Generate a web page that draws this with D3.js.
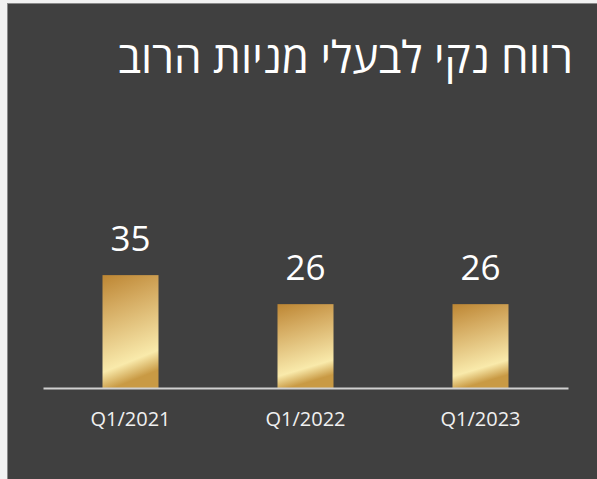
<!DOCTYPE html>
<meta charset="utf-8">
<head>
	<title>Net profit</title>
</head>

<style>
	body { margin: 0; background: #f2f2f2; }
	svg { display: block; }
</style>

<body>
	<svg width="597" height="479"></svg>

	<script src="https://d3js.org/d3.v7.min.js"></script>
	<script>
var title = "רווח נקי לבעלי מניות הרוב";
var quarters = ["Q1/2021", "Q1/2022", "Q1/2023"];
var profit = [35, 26, 26];

var width = 597, height = 479;
var left = 43, right = 568, baseline = 388;

var svg = d3.select('svg');

// dark panel
svg.append('rect')
	.attr('x', 7.5).attr('y', 3.5)
	.attr('width', width).attr('height', height)
	.attr('fill', '#404040')
	.attr('stroke', '#8a8a8a')
	.attr('stroke-width', 1);

// gold gradient
var grad = svg.append('defs').append('linearGradient')
	.attr('id', 'gold')
	.attr('x1', 0).attr('y1', 0)
	.attr('x2', 0.2).attr('y2', 1);
grad.append('stop').attr('offset', '0').attr('stop-color', '#bd8633');
grad.append('stop').attr('offset', '0.3').attr('stop-color', '#d4aa60');
grad.append('stop').attr('offset', '0.62').attr('stop-color', '#ead08e');
grad.append('stop').attr('offset', '0.83').attr('stop-color', '#f9eaab');
grad.append('stop').attr('offset', '1').attr('stop-color', '#c99a44');

var x = d3.scaleBand()
	.domain(quarters)
	.range([left, right])
	.paddingInner(0.68)
	.paddingOuter(0.34);

var y = d3.scaleLinear()
	.domain([0, 40])
	.range([baseline, baseline - 129]);

svg.append('text')
	.attr('x', 573)
	.attr('y', 73)
	.attr('text-anchor', 'start')
	.attr('direction', 'rtl')
	.style('font-family', '"Open Sans", "DejaVu Sans", sans-serif')
	.style('font-size', '44px')
	.attr('fill', '#ffffff')
	.text(title);

svg.selectAll('rect.bar')
	.data(profit)
	.enter()
	.append('rect')
	.attr('class', 'bar')
	.attr('x', function(d, i) {return x(quarters[i]);})
	.attr('y', function(d) {return y(d);})
	.attr('width', x.bandwidth())
	.attr('height', function(d) {return baseline - y(d);})
	.attr('fill', 'url(#gold)');

svg.selectAll('text.val')
	.data(profit)
	.enter()
	.append('text')
	.attr('class', 'val')
	.attr('x', function(d, i) {return x(quarters[i]) + x.bandwidth() / 2;})
	.attr('y', function(d) {return y(d) - 24;})
	.attr('text-anchor', 'middle')
	.style('font-family', '"Open Sans", sans-serif')
	.style('font-size', '35px')
	.attr('fill', '#ffffff')
	.text(function(d) {return d;});

// axis
var axis = svg.append('g')
	.attr('transform', 'translate(0,' + baseline + ')')
	.call(d3.axisBottom(x).tickSize(0).tickPadding(24));
axis.select('.domain')
	.attr('stroke', '#d0d0d0')
	.attr('stroke-width', 2);
axis.selectAll('text')
	.style('font-family', '"Open Sans", sans-serif')
	.style('font-size', '20px')
	.attr('fill', '#f0f0f0');
	</script>
</body>
</html>
